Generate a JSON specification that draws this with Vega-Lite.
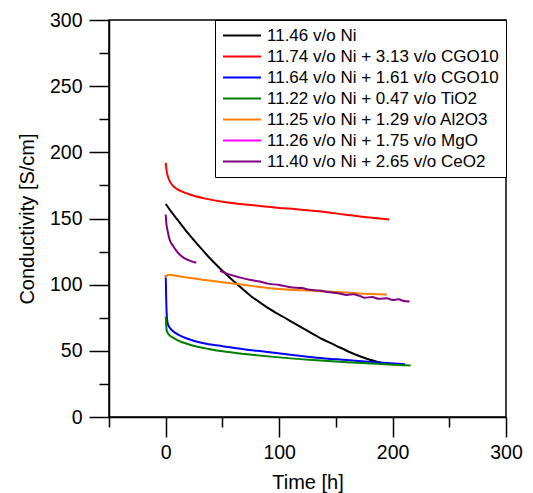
{
  "$schema": "https://vega.github.io/schema/vega-lite/v6.json",
  "width": 397,
  "height": 397,
  "autosize": "none",
  "padding": {"left": 109, "top": 20, "right": 27, "bottom": 76},
  "background": "white",
  "config": {"view": {"stroke": "black", "strokeWidth": 1.5}, "font": "Liberation Sans"},
  "data": {"values": [
    {"series": "11.46 v/o Ni", "part": 1, "time": 0, "cond": 161},
    {"series": "11.46 v/o Ni", "part": 1, "time": 5, "cond": 155},
    {"series": "11.46 v/o Ni", "part": 1, "time": 10, "cond": 149.5},
    {"series": "11.46 v/o Ni", "part": 1, "time": 20, "cond": 138.5},
    {"series": "11.46 v/o Ni", "part": 1, "time": 30, "cond": 128.5},
    {"series": "11.46 v/o Ni", "part": 1, "time": 40, "cond": 119},
    {"series": "11.46 v/o Ni", "part": 1, "time": 50, "cond": 110.5},
    {"series": "11.46 v/o Ni", "part": 1, "time": 60, "cond": 102.5},
    {"series": "11.46 v/o Ni", "part": 1, "time": 75, "cond": 91.5},
    {"series": "11.46 v/o Ni", "part": 1, "time": 90, "cond": 82.5},
    {"series": "11.46 v/o Ni", "part": 1, "time": 105, "cond": 75},
    {"series": "11.46 v/o Ni", "part": 1, "time": 120, "cond": 67.5},
    {"series": "11.46 v/o Ni", "part": 1, "time": 135, "cond": 60.2},
    {"series": "11.46 v/o Ni", "part": 1, "time": 150, "cond": 54},
    {"series": "11.46 v/o Ni", "part": 1, "time": 165, "cond": 48},
    {"series": "11.46 v/o Ni", "part": 1, "time": 180, "cond": 43.3},
    {"series": "11.46 v/o Ni", "part": 1, "time": 190, "cond": 41},

    {"series": "11.74 v/o Ni + 3.13 v/o CGO10", "part": 1, "time": 0, "cond": 192},
    {"series": "11.74 v/o Ni + 3.13 v/o CGO10", "part": 1, "time": 0.5, "cond": 188},
    {"series": "11.74 v/o Ni + 3.13 v/o CGO10", "part": 1, "time": 1, "cond": 185},
    {"series": "11.74 v/o Ni + 3.13 v/o CGO10", "part": 1, "time": 2, "cond": 181.5},
    {"series": "11.74 v/o Ni + 3.13 v/o CGO10", "part": 1, "time": 4, "cond": 177.5},
    {"series": "11.74 v/o Ni + 3.13 v/o CGO10", "part": 1, "time": 8, "cond": 173.5},
    {"series": "11.74 v/o Ni + 3.13 v/o CGO10", "part": 1, "time": 14, "cond": 170.5},
    {"series": "11.74 v/o Ni + 3.13 v/o CGO10", "part": 1, "time": 20, "cond": 168.5},
    {"series": "11.74 v/o Ni + 3.13 v/o CGO10", "part": 1, "time": 35, "cond": 165},
    {"series": "11.74 v/o Ni + 3.13 v/o CGO10", "part": 1, "time": 50, "cond": 162.6},
    {"series": "11.74 v/o Ni + 3.13 v/o CGO10", "part": 1, "time": 70, "cond": 160.6},
    {"series": "11.74 v/o Ni + 3.13 v/o CGO10", "part": 1, "time": 85, "cond": 159.3},
    {"series": "11.74 v/o Ni + 3.13 v/o CGO10", "part": 1, "time": 100, "cond": 158},
    {"series": "11.74 v/o Ni + 3.13 v/o CGO10", "part": 1, "time": 115, "cond": 157},
    {"series": "11.74 v/o Ni + 3.13 v/o CGO10", "part": 1, "time": 127, "cond": 156},
    {"series": "11.74 v/o Ni + 3.13 v/o CGO10", "part": 1, "time": 140, "cond": 155},
    {"series": "11.74 v/o Ni + 3.13 v/o CGO10", "part": 1, "time": 157, "cond": 153},
    {"series": "11.74 v/o Ni + 3.13 v/o CGO10", "part": 1, "time": 175, "cond": 151.2},
    {"series": "11.74 v/o Ni + 3.13 v/o CGO10", "part": 1, "time": 197, "cond": 149.3},

    {"series": "11.64 v/o Ni + 1.61 v/o CGO10", "part": 1, "time": 0, "cond": 107},
    {"series": "11.64 v/o Ni + 1.61 v/o CGO10", "part": 1, "time": 0.2, "cond": 100},
    {"series": "11.64 v/o Ni + 1.61 v/o CGO10", "part": 1, "time": 0.4, "cond": 90},
    {"series": "11.64 v/o Ni + 1.61 v/o CGO10", "part": 1, "time": 0.7, "cond": 81},
    {"series": "11.64 v/o Ni + 1.61 v/o CGO10", "part": 1, "time": 1.2, "cond": 74},
    {"series": "11.64 v/o Ni + 1.61 v/o CGO10", "part": 1, "time": 2, "cond": 70},
    {"series": "11.64 v/o Ni + 1.61 v/o CGO10", "part": 1, "time": 4, "cond": 67},
    {"series": "11.64 v/o Ni + 1.61 v/o CGO10", "part": 1, "time": 7, "cond": 64.5},
    {"series": "11.64 v/o Ni + 1.61 v/o CGO10", "part": 1, "time": 11, "cond": 62.3},
    {"series": "11.64 v/o Ni + 1.61 v/o CGO10", "part": 1, "time": 18, "cond": 59.5},
    {"series": "11.64 v/o Ni + 1.61 v/o CGO10", "part": 1, "time": 26, "cond": 57.3},
    {"series": "11.64 v/o Ni + 1.61 v/o CGO10", "part": 1, "time": 38, "cond": 55},
    {"series": "11.64 v/o Ni + 1.61 v/o CGO10", "part": 1, "time": 50, "cond": 53.5},
    {"series": "11.64 v/o Ni + 1.61 v/o CGO10", "part": 1, "time": 70, "cond": 51},
    {"series": "11.64 v/o Ni + 1.61 v/o CGO10", "part": 1, "time": 88, "cond": 49.3},
    {"series": "11.64 v/o Ni + 1.61 v/o CGO10", "part": 1, "time": 110, "cond": 47},
    {"series": "11.64 v/o Ni + 1.61 v/o CGO10", "part": 1, "time": 133, "cond": 44.8},
    {"series": "11.64 v/o Ni + 1.61 v/o CGO10", "part": 1, "time": 160, "cond": 43},
    {"series": "11.64 v/o Ni + 1.61 v/o CGO10", "part": 1, "time": 185, "cond": 41.3},
    {"series": "11.64 v/o Ni + 1.61 v/o CGO10", "part": 1, "time": 211, "cond": 39.8},

    {"series": "11.22 v/o Ni + 0.47 v/o TiO2", "part": 1, "time": 0, "cond": 76},
    {"series": "11.22 v/o Ni + 0.47 v/o TiO2", "part": 1, "time": 0.3, "cond": 71},
    {"series": "11.22 v/o Ni + 0.47 v/o TiO2", "part": 1, "time": 0.7, "cond": 66.5},
    {"series": "11.22 v/o Ni + 0.47 v/o TiO2", "part": 1, "time": 1.5, "cond": 64},
    {"series": "11.22 v/o Ni + 0.47 v/o TiO2", "part": 1, "time": 3, "cond": 62},
    {"series": "11.22 v/o Ni + 0.47 v/o TiO2", "part": 1, "time": 6.7, "cond": 59.8},
    {"series": "11.22 v/o Ni + 0.47 v/o TiO2", "part": 1, "time": 12, "cond": 57.3},
    {"series": "11.22 v/o Ni + 0.47 v/o TiO2", "part": 1, "time": 18, "cond": 55.5},
    {"series": "11.22 v/o Ni + 0.47 v/o TiO2", "part": 1, "time": 26, "cond": 53.5},
    {"series": "11.22 v/o Ni + 0.47 v/o TiO2", "part": 1, "time": 38, "cond": 51.4},
    {"series": "11.22 v/o Ni + 0.47 v/o TiO2", "part": 1, "time": 50, "cond": 49.7},
    {"series": "11.22 v/o Ni + 0.47 v/o TiO2", "part": 1, "time": 70, "cond": 47.6},
    {"series": "11.22 v/o Ni + 0.47 v/o TiO2", "part": 1, "time": 88, "cond": 46},
    {"series": "11.22 v/o Ni + 0.47 v/o TiO2", "part": 1, "time": 110, "cond": 44.3},
    {"series": "11.22 v/o Ni + 0.47 v/o TiO2", "part": 1, "time": 133, "cond": 42.9},
    {"series": "11.22 v/o Ni + 0.47 v/o TiO2", "part": 1, "time": 160, "cond": 41.3},
    {"series": "11.22 v/o Ni + 0.47 v/o TiO2", "part": 1, "time": 190, "cond": 40},
    {"series": "11.22 v/o Ni + 0.47 v/o TiO2", "part": 1, "time": 216, "cond": 38.9},

    {"series": "11.25 v/o Ni + 1.29 v/o Al2O3", "part": 1, "time": 0, "cond": 105},
    {"series": "11.25 v/o Ni + 1.29 v/o Al2O3", "part": 1, "time": 1, "cond": 107},
    {"series": "11.25 v/o Ni + 1.29 v/o Al2O3", "part": 1, "time": 3, "cond": 107.5},
    {"series": "11.25 v/o Ni + 1.29 v/o Al2O3", "part": 1, "time": 10, "cond": 106.5},
    {"series": "11.25 v/o Ni + 1.29 v/o Al2O3", "part": 1, "time": 20, "cond": 105.2},
    {"series": "11.25 v/o Ni + 1.29 v/o Al2O3", "part": 1, "time": 35, "cond": 103.5},
    {"series": "11.25 v/o Ni + 1.29 v/o Al2O3", "part": 1, "time": 50, "cond": 101.9},
    {"series": "11.25 v/o Ni + 1.29 v/o Al2O3", "part": 1, "time": 70, "cond": 99.7},
    {"series": "11.25 v/o Ni + 1.29 v/o Al2O3", "part": 1, "time": 83, "cond": 98.3},
    {"series": "11.25 v/o Ni + 1.29 v/o Al2O3", "part": 1, "time": 100, "cond": 96.8},
    {"series": "11.25 v/o Ni + 1.29 v/o Al2O3", "part": 1, "time": 127, "cond": 95.5},
    {"series": "11.25 v/o Ni + 1.29 v/o Al2O3", "part": 1, "time": 150, "cond": 94.5},
    {"series": "11.25 v/o Ni + 1.29 v/o Al2O3", "part": 1, "time": 171, "cond": 93.4},
    {"series": "11.25 v/o Ni + 1.29 v/o Al2O3", "part": 1, "time": 195, "cond": 92.6},

    {"series": "11.40 v/o Ni + 2.65 v/o CeO2", "part": 1, "time": 0, "cond": 153},
    {"series": "11.40 v/o Ni + 2.65 v/o CeO2", "part": 1, "time": 0.5, "cond": 147},
    {"series": "11.40 v/o Ni + 2.65 v/o CeO2", "part": 1, "time": 1.7, "cond": 140.5},
    {"series": "11.40 v/o Ni + 2.65 v/o CeO2", "part": 1, "time": 3.5, "cond": 134},
    {"series": "11.40 v/o Ni + 2.65 v/o CeO2", "part": 1, "time": 6.7, "cond": 129},
    {"series": "11.40 v/o Ni + 2.65 v/o CeO2", "part": 1, "time": 10, "cond": 125},
    {"series": "11.40 v/o Ni + 2.65 v/o CeO2", "part": 1, "time": 14, "cond": 121.5},
    {"series": "11.40 v/o Ni + 2.65 v/o CeO2", "part": 1, "time": 20, "cond": 118.5},
    {"series": "11.40 v/o Ni + 2.65 v/o CeO2", "part": 1, "time": 27, "cond": 116.5},
    {"series": "11.40 v/o Ni + 2.65 v/o CeO2", "part": 2, "time": 48, "cond": 110.5},
    {"series": "11.40 v/o Ni + 2.65 v/o CeO2", "part": 2, "time": 55, "cond": 108},
    {"series": "11.40 v/o Ni + 2.65 v/o CeO2", "part": 2, "time": 65, "cond": 105.5},
    {"series": "11.40 v/o Ni + 2.65 v/o CeO2", "part": 2, "time": 75, "cond": 103.5},
    {"series": "11.40 v/o Ni + 2.65 v/o CeO2", "part": 2, "time": 83, "cond": 102.4},
    {"series": "11.40 v/o Ni + 2.65 v/o CeO2", "part": 2, "time": 90, "cond": 100.8},
    {"series": "11.40 v/o Ni + 2.65 v/o CeO2", "part": 2, "time": 100, "cond": 99.8},
    {"series": "11.40 v/o Ni + 2.65 v/o CeO2", "part": 2, "time": 110, "cond": 98},
    {"series": "11.40 v/o Ni + 2.65 v/o CeO2", "part": 2, "time": 120, "cond": 97.4},
    {"series": "11.40 v/o Ni + 2.65 v/o CeO2", "part": 2, "time": 127, "cond": 96.2},
    {"series": "11.40 v/o Ni + 2.65 v/o CeO2", "part": 2, "time": 135, "cond": 95.6},
    {"series": "11.40 v/o Ni + 2.65 v/o CeO2", "part": 2, "time": 145, "cond": 94.2},
    {"series": "11.40 v/o Ni + 2.65 v/o CeO2", "part": 2, "time": 152, "cond": 93.6},
    {"series": "11.40 v/o Ni + 2.65 v/o CeO2", "part": 2, "time": 160, "cond": 92.2},
    {"series": "11.40 v/o Ni + 2.65 v/o CeO2", "part": 2, "time": 165, "cond": 92.8},
    {"series": "11.40 v/o Ni + 2.65 v/o CeO2", "part": 2, "time": 171, "cond": 91.5},
    {"series": "11.40 v/o Ni + 2.65 v/o CeO2", "part": 2, "time": 175, "cond": 90.2},
    {"series": "11.40 v/o Ni + 2.65 v/o CeO2", "part": 2, "time": 182, "cond": 90.6},
    {"series": "11.40 v/o Ni + 2.65 v/o CeO2", "part": 2, "time": 188, "cond": 89.3},
    {"series": "11.40 v/o Ni + 2.65 v/o CeO2", "part": 2, "time": 195, "cond": 89.8},
    {"series": "11.40 v/o Ni + 2.65 v/o CeO2", "part": 2, "time": 200, "cond": 88.4},
    {"series": "11.40 v/o Ni + 2.65 v/o CeO2", "part": 2, "time": 205, "cond": 88.9},
    {"series": "11.40 v/o Ni + 2.65 v/o CeO2", "part": 2, "time": 210, "cond": 87.6},
    {"series": "11.40 v/o Ni + 2.65 v/o CeO2", "part": 2, "time": 215, "cond": 87.2}
  ]},
  "layer": [
    {
      "mark": {"type": "line", "strokeWidth": 2, "interpolate": "monotone"},
      "encoding": {
        "x": {"field": "time", "type": "quantitative",
          "scale": {"domain": [-50, 300], "nice": false, "zero": false},
          "axis": {"values": [0, 100, 200, 300], "tickSize": 20, "tickWidth": 1.5, "tickColor": "black",
            "domainColor": "black", "domainWidth": 1.5, "grid": false,
            "labelFont": "Liberation Sans", "labelFontSize": 19.5, "labelColor": "black", "labelPadding": 6,
            "labelFlush": false, "labelOverlap": false,
            "title": "Time [h]", "titleFont": "Liberation Sans", "titleFontSize": 20, "titleFontWeight": "normal",
            "titleColor": "black", "titleY": 71, "titleBaseline": "alphabetic"}},
        "y": {"field": "cond", "type": "quantitative",
          "scale": {"domain": [0, 300], "nice": false, "zero": false},
          "axis": {"values": [0, 50, 100, 150, 200, 250, 300], "tickSize": 20, "tickWidth": 1.5, "tickColor": "black",
            "domainColor": "black", "domainWidth": 1.5, "grid": false,
            "labelFont": "Liberation Sans", "labelFontSize": 19.5, "labelColor": "black", "labelPadding": 7,
            "labelFlush": false, "labelOverlap": false,
            "title": "Conductivity [S/cm]", "titleFont": "Liberation Sans", "titleFontSize": 20, "titleFontWeight": "normal",
            "titleColor": "black", "titleX": -72, "titleY": 198.5, "titleAngle": 270, "titleAlign": "center", "titleBaseline": "bottom"}},
        "color": {"field": "series", "type": "nominal",
          "scale": {
            "domain": ["11.46 v/o Ni", "11.74 v/o Ni + 3.13 v/o CGO10", "11.64 v/o Ni + 1.61 v/o CGO10", "11.22 v/o Ni + 0.47 v/o TiO2", "11.25 v/o Ni + 1.29 v/o Al2O3", "11.26 v/o Ni + 1.75 v/o MgO", "11.40 v/o Ni + 2.65 v/o CeO2"],
            "range": ["#000000", "#ff0000", "#0000ff", "#008000", "#ff8000", "#ff00ff", "#800080"]},
          "legend": {"orient": "top-right", "offset": 0, "title": null, "strokeColor": "black", "fillColor": "white",
            "padding": 7, "labelFont": "Liberation Sans", "labelFontSize": 17, "labelColor": "black", "labelLimit": 400,
            "symbolType": "stroke", "symbolSize": 1444, "symbolStrokeWidth": 2, "labelOffset": 5,
            "clipHeight": 17, "rowPadding": 3}},
        "detail": {"field": "part", "type": "nominal"}
      }
    },
    {
      "mark": {"type": "point", "opacity": 0},
      "encoding": {
        "x": {"field": "time", "type": "quantitative",
          "axis": {"orient": "bottom", "values": [-50, 50, 150, 250], "tickSize": 10, "tickWidth": 1.5, "tickColor": "black",
            "labels": false, "domain": false, "grid": false, "title": null}},
        "y": {"field": "cond", "type": "quantitative",
          "axis": {"orient": "left", "values": [25, 75, 125, 175, 225, 275], "tickSize": 10, "tickWidth": 1.5, "tickColor": "black",
            "labels": false, "domain": false, "grid": false, "title": null}}
      }
    }
  ],
  "resolve": {"axis": {"x": "independent", "y": "independent"}}
}
